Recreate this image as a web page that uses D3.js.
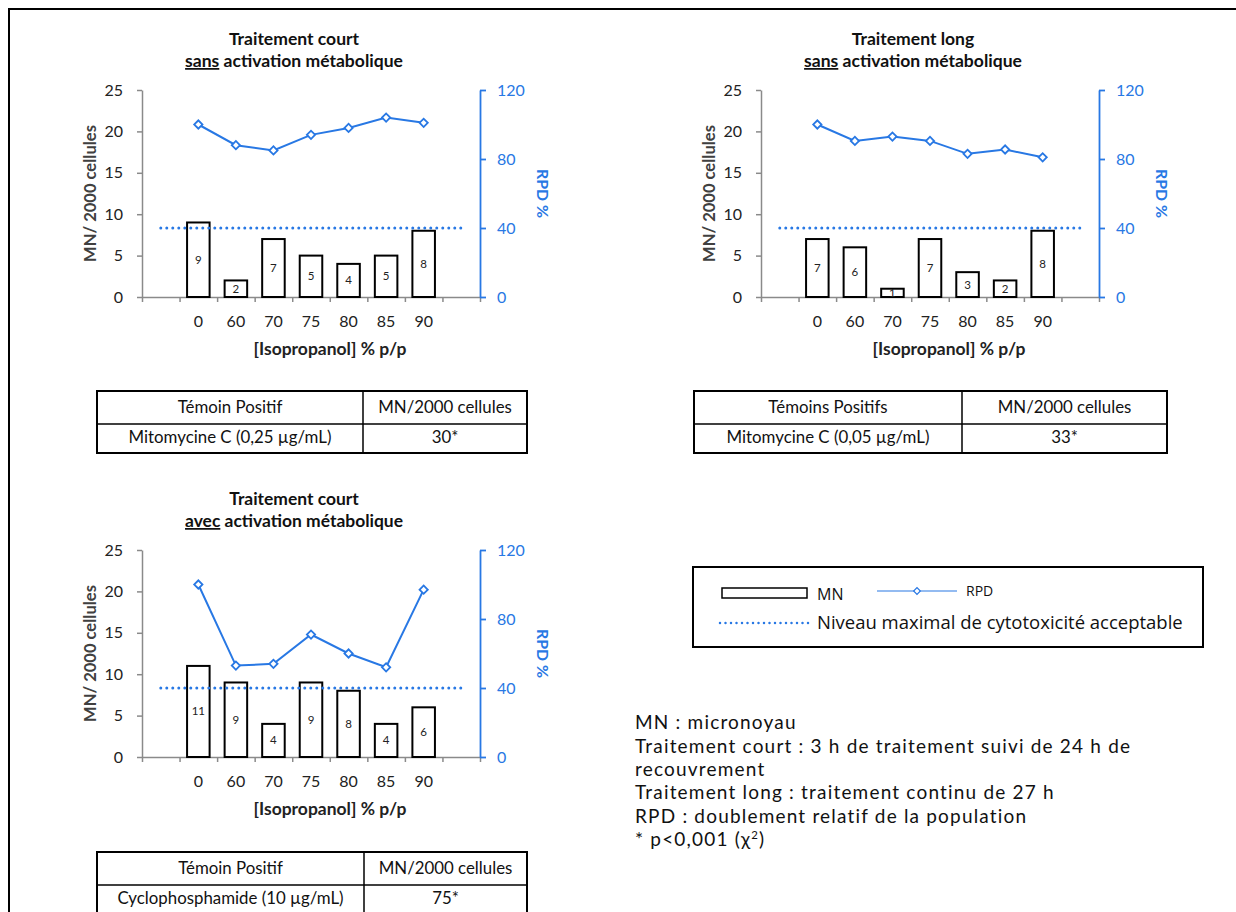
<!DOCTYPE html>
<html><head><meta charset="utf-8">
<script src="https://cdn.jsdelivr.net/npm/d3@7/dist/d3.min.js"></script>
<style>body{margin:0;background:#fff}svg{display:block}</style>
</head><body>
<svg id="c" width="1236" height="912"></svg>
<script>
// ---------------- DATA ----------------
const doses = ["0","60","70","75","80","85","90"];
const mnCourtSans = [9,2,7,5,4,5,8];
const rpdCourtSans = [100,88,85,94,98,104,101];
const mnLongSans = [7,6,1,7,3,2,8];
const rpdLongSans = [100,90.5,93,90.5,83,85.5,81];
const mnCourtAvec = [11,9,4,9,8,4,6];
const rpdCourtAvec = [100,53,54,71,60,52,97];
const cytoLimit = 40; // RPD %
const leftTicks = [0,5,10,15,20,25];
const rightTicks = [0,40,80,120];
const titles = [
  ["Traitement court", "sans", " activation métabolique"],
  ["Traitement long", "sans", " activation métabolique"],
  ["Traitement court", "avec", " activation métabolique"]
];
const tableHeader1 = ["Témoin Positif", "MN/2000 cellules"];
const tableRow1 = ["Mitomycine C (0,25 µg/mL)", "30*"];
const tableHeader2 = ["Témoins Positifs", "MN/2000 cellules"];
const tableRow2 = ["Mitomycine C (0,05 µg/mL)", "33*"];
const tableHeader3 = ["Témoin Positif", "MN/2000 cellules"];
const tableRow3 = ["Cyclophosphamide (10 µg/mL)", "75*"];
const legendLabels = ["MN", "RPD", "Niveau maximal de cytotoxicité acceptable"];
const notes = [
  "MN : micronoyau",
  "Traitement court : 3 h de traitement suivi de 24 h de",
  "recouvrement",
  "Traitement long : traitement continu de 27 h",
  "RPD : doublement relatif de la population"
];

// ---------------- STYLE ----------------
const BLUE = "#2878E4", GREY = "#8a8a8a";
const FONT = "Lato, 'Open Sans', sans-serif";
const FONT2 = "'Open Sans', sans-serif";
const svg = d3.select("#c");

function fit(sel, target) {
  const w = sel.node().getComputedTextLength();
  const fs = parseFloat(sel.attr("font-size"));
  sel.attr("font-size", fs * target / w);
  return fs * target / w;
}

// outer frame
svg.append("rect").attr("x",9).attr("y",9).attr("width",1240).attr("height",920)
  .attr("fill","none").attr("stroke","#000").attr("stroke-width",2);

const W = 338, H = 207;
const domain = ["_s", ...doses, "_e"];

function panel(x0, y0, mn, rpd, title) {
  const g = svg.append("g").attr("transform", `translate(${x0},${y0})`);
  const x = d3.scaleBand().domain(domain).range([0, W]).padding(0);
  const bw = x.bandwidth();
  const xi = d3.scaleLinear().domain([0, domain.length]).range([0, W]);
  const yL = d3.scaleLinear().domain([0, 25]).range([H, 0]);
  const yR = d3.scaleLinear().domain([0, 120]).range([H, 0]);

  // left axis
  const la = g.append("g").call(d3.axisLeft(yL).tickValues(leftTicks).tickSize(5).tickSizeOuter(0).tickPadding(14));
  la.select(".domain").attr("stroke", GREY).attr("stroke-width", 1.5);
  la.selectAll(".tick line").attr("stroke", GREY).attr("stroke-width", 1.5);
  la.selectAll("text").attr("font-family", FONT).attr("font-size", 16).attr("fill", "#222");

  // x axis ticks at band boundaries
  const xa = g.append("g").attr("transform", `translate(0,${H})`)
    .call(d3.axisBottom(xi).tickValues(d3.range(domain.length + 1)).tickSize(5).tickSizeOuter(0).tickFormat(""));
  xa.select(".domain").attr("stroke", GREY).attr("stroke-width", 1.5);
  xa.selectAll(".tick line").attr("stroke", GREY).attr("stroke-width", 1.5);
  const xl = g.append("g").attr("transform", `translate(0,${H})`)
    .call(d3.axisBottom(x).tickSize(0).tickPadding(19).tickFormat(d => d.startsWith("_") ? "" : d));
  xl.select(".domain").remove();
  xl.selectAll("text").attr("font-family", FONT).attr("font-size", 16).attr("fill", "#222");

  // right axis
  const ra = g.append("g").attr("transform", `translate(${W},0)`)
    .call(d3.axisRight(yR).tickValues(rightTicks).tickSize(6).tickSizeOuter(0).tickPadding(11));
  ra.select(".domain").attr("stroke", BLUE).attr("stroke-width", 1.8);
  ra.selectAll(".tick line").attr("stroke", BLUE).attr("stroke-width", 1.8);
  ra.selectAll("text").attr("font-family", FONT).attr("font-size", 16).attr("fill", BLUE);

  // bars
  const rows = doses.map((d, i) => ({d, mn: mn[i], rpd: rpd[i]}));
  g.selectAll("rect.bar").data(rows).enter().append("rect").attr("class","bar")
    .attr("x", r => x(r.d) + bw * 0.2).attr("width", bw * 0.6)
    .attr("y", r => yL(r.mn)).attr("height", r => yL(0) - yL(r.mn))
    .attr("fill", "#fff").attr("stroke", "#000").attr("stroke-width", 2);
  g.selectAll("text.bl").data(rows).enter().append("text").attr("class","bl")
    .attr("x", r => x(r.d) + bw / 2).attr("y", r => (yL(r.mn) + yL(0)) / 2 + 4)
    .attr("text-anchor", "middle").attr("font-family", FONT).attr("font-size", 11.5).attr("fill", "#222")
    .text(r => r.mn);

  // cytotoxicity limit (dotted)
  const ends = [domain[0], domain[domain.length - 1]];
  g.append("path")
    .attr("d", d3.line().x(d => x(d) + bw / 2).y(() => yR(cytoLimit))(ends))
    .attr("stroke", BLUE).attr("stroke-width", 3).attr("stroke-dasharray", "0,6")
    .attr("stroke-linecap", "round").attr("fill", "none");

  // RPD line
  g.append("path")
    .attr("d", d3.line().x(r => x(r.d) + bw / 2).y(r => yR(r.rpd))(rows))
    .attr("stroke", BLUE).attr("stroke-width", 2).attr("fill", "none");
  g.selectAll("path.mk").data(rows).enter().append("path").attr("class","mk")
    .attr("d", d3.symbol(d3.symbolSquare, 34)())
    .attr("transform", r => `translate(${x(r.d) + bw / 2},${yR(r.rpd)}) rotate(45)`)
    .attr("fill", "#fff").attr("stroke", BLUE).attr("stroke-width", 1.8);

  // axis titles
  const lt = g.append("text").attr("transform", `translate(-52,${H / 2}) rotate(-90)`)
    .attr("dy", "0.35em").attr("text-anchor", "middle").attr("font-family", FONT).attr("font-weight", "bold")
    .attr("font-size", 14).attr("fill", "#404040").text("MN/ 2000 cellules");
  fit(lt, 137);
  const rt = g.append("text").attr("transform", `translate(${W + 63},${H / 2}) rotate(90)`)
    .attr("dy", "0.35em").attr("text-anchor", "middle").attr("font-family", FONT).attr("font-weight", "bold")
    .attr("font-size", 14).attr("fill", BLUE).text("RPD %");
  fit(rt, 49);
  const xt = g.append("text").attr("x", 188).attr("y", H + 58)
    .attr("text-anchor", "middle").attr("font-family", FONT).attr("font-weight", "bold")
    .attr("font-size", 14).attr("fill", "#222").text("[Isopropanol] % p/p");
  fit(xt, 153);

  // title
  const t2 = g.append("text").attr("x", W / 2 - 17).attr("y", -23)
    .attr("text-anchor", "middle").attr("font-family", FONT).attr("font-weight", "bold")
    .attr("font-size", 14).attr("fill", "#111");
  t2.append("tspan").attr("text-decoration", "underline").text(title[1]);
  t2.append("tspan").text(title[2]);
  const fs = fit(t2, 218);
  g.append("text").attr("x", W / 2 - 17).attr("y", -45)
    .attr("text-anchor", "middle").attr("font-family", FONT).attr("font-weight", "bold")
    .attr("font-size", fs).attr("fill", "#111").text(title[0]);
}

panel(142, 90, mnCourtSans, rpdCourtSans, titles[0]);
panel(761, 90, mnLongSans, rpdLongSans, titles[1]);
panel(142, 550, mnCourtAvec, rpdCourtAvec, titles[2]);

// tables
function table(x1, xm, x2, yt, ym, yb, header, row) {
  const g = svg.append("g");
  g.append("rect").attr("x", x1).attr("y", yt).attr("width", x2 - x1).attr("height", yb - yt)
    .attr("fill", "none").attr("stroke", "#000").attr("stroke-width", 2);
  g.append("line").attr("x1", x1).attr("x2", x2).attr("y1", ym).attr("y2", ym).attr("stroke", "#000").attr("stroke-width", 1.5);
  g.append("line").attr("x1", xm).attr("x2", xm).attr("y1", yt).attr("y2", yb).attr("stroke", "#000").attr("stroke-width", 1.5);
  const cx = [(x1 + xm) / 2, (xm + x2) / 2];
  const cells = [
    {t: header[0], x: cx[0], y: (yt + ym) / 2}, {t: header[1], x: cx[1], y: (yt + ym) / 2},
    {t: row[0], x: cx[0], y: ym + 14}, {t: row[1], x: cx[1], y: ym + 14}
  ];
  const tx = g.selectAll("text").data(cells).enter().append("text")
    .attr("x", d => d.x).attr("y", d => d.y + 5).attr("text-anchor", "middle")
    .attr("font-family", FONT).attr("font-size", 14).attr("fill", "#111").text(d => d.t);
  return tx;
}
const t1 = table(97, 363, 527, 391, 424, 453, tableHeader1, tableRow1);
const t2 = table(694, 962, 1167, 391, 424, 453, tableHeader2, tableRow2);
const t3 = table(97, 364, 527, 852, 885, 914, tableHeader3, tableRow3);
const tfs = fit(d3.select(t1.nodes()[2]), 203);
[t1, t2, t3].forEach(t => t.attr("font-size", tfs));

// legend
const lg = svg.append("g");
lg.append("rect").attr("x", 693).attr("y", 567).attr("width", 510).attr("height", 80)
  .attr("fill", "none").attr("stroke", "#000").attr("stroke-width", 2);
lg.append("rect").attr("x", 722).attr("y", 588).attr("width", 85).attr("height", 10)
  .attr("fill", "#fff").attr("stroke", "#000").attr("stroke-width", 1.5);
lg.append("text").attr("x", 817).attr("y", 600).attr("font-family", FONT2)
  .attr("font-size", 16).attr("fill", "#111").text(legendLabels[0]);
lg.append("line").attr("x1", 877).attr("x2", 957).attr("y1", 591).attr("y2", 591)
  .attr("stroke", BLUE).attr("stroke-width", 1.2);
lg.append("path").attr("d", d3.symbol(d3.symbolSquare, 22)())
  .attr("transform", "translate(917,591) rotate(45)").attr("fill", "#fff").attr("stroke", BLUE).attr("stroke-width", 1.2);
lg.append("text").attr("x", 966).attr("y", 596).attr("font-family", FONT2)
  .attr("font-size", 14).attr("fill", "#111").text(legendLabels[1]);
lg.append("line").attr("x1", 720).attr("x2", 810).attr("y1", 623).attr("y2", 623)
  .attr("stroke", BLUE).attr("stroke-width", 2.5).attr("stroke-dasharray", "0,5.5").attr("stroke-linecap", "round");
const nv = lg.append("text").attr("x", 817).attr("y", 629).attr("font-family", FONT2)
  .attr("font-size", 16).attr("fill", "#111").text(legendLabels[2]);
fit(nv, 366);

// notes
const ng = svg.append("g");
const base = [729, 752.5, 776, 799, 822.5];
const nfs = 19;
const nt = ng.selectAll("text").data(notes).enter().append("text")
  .attr("x", 635).attr("y", (d, i) => base[i]).attr("font-family", FONT)
  .attr("font-size", nfs).attr("fill", "#111").text(d => d);
const refNode = nt.nodes()[1];
const ls = Math.max(0, (495 - refNode.getComputedTextLength()) / (notes[1].length - 1));
nt.attr("letter-spacing", ls);
const last = ng.append("text").attr("x", 635).attr("y", 846).attr("font-family", FONT)
  .attr("font-size", nfs).attr("letter-spacing", ls).attr("fill", "#111");
last.append("tspan").text("* p<0,001 (χ");
last.append("tspan").attr("dy", -7).attr("font-size", nfs * 0.6).text("2");
last.append("tspan").attr("dy", 7).text(")");
</script>
</body></html>
